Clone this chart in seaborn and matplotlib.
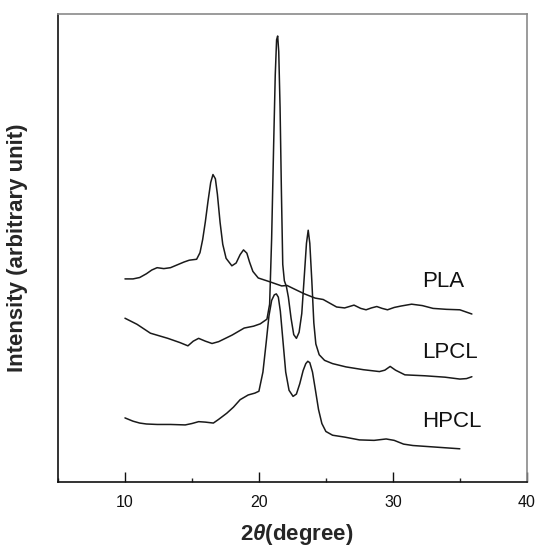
import matplotlib

matplotlib.use("Agg")
import matplotlib.pyplot as plt
import pandas as pd
import seaborn as sns
from matplotlib.ticker import MultipleLocator

# 2-theta (degree) and intensity (arbitrary unit, offset stacked)
pla_2theta = [10.0, 10.6, 11.1, 11.6, 12.0, 12.4, 12.9, 13.4, 13.9, 14.4, 14.8, 15.35,
              15.6, 15.8, 16.0, 16.2, 16.4, 16.57, 16.75, 16.9, 17.1, 17.3, 17.55,
              17.98, 18.3, 18.6, 18.85, 19.1, 19.3, 19.55, 19.95, 20.8, 21.7, 22.1,
              22.6, 23.4, 24.2, 24.8, 25.3, 25.8, 26.4, 27.1, 27.6, 28.0, 28.4,
              28.8, 29.2, 29.6, 30.1, 30.6, 31.4, 32.2, 33.0, 34.0, 35.0, 35.9]
pla_int = [43.4, 43.4, 43.7, 44.5, 45.3, 45.8, 45.6, 45.8, 46.4, 47.0, 47.4, 47.6,
           49.0, 51.8, 55.6, 60.0, 64.0, 65.7, 64.8, 61.5, 55.5, 50.8, 47.8,
           46.2, 46.8, 48.6, 49.6, 48.9, 47.0, 45.0, 43.6, 42.8, 41.9, 42.0,
           41.3, 40.2, 39.3, 39.0, 38.2, 37.4, 37.2, 37.8, 37.1, 36.8, 37.2,
           37.5, 37.1, 36.8, 37.3, 37.6, 38.0, 37.7, 37.1, 36.9, 36.8, 35.9]

lpcl_2theta = [10.0, 10.9, 11.9, 13.2, 14.1, 14.7, 15.1, 15.5, 16.0, 16.5, 17.0,
               18.0, 18.9, 19.6, 20.1, 20.6, 20.8, 20.95, 21.1, 21.22, 21.32,
               21.4, 21.48, 21.58, 21.68, 21.78, 21.9, 22.05, 22.2, 22.4, 22.6,
               22.8, 23.0, 23.2, 23.4, 23.55, 23.68, 23.8, 23.95, 24.1, 24.25,
               24.5, 24.9, 25.5, 26.5, 27.8, 29.0, 29.4, 29.8, 30.2, 30.9, 32.4,
               33.9, 35.0, 35.5, 35.9]
lpcl_int = [35.0, 33.7, 31.8, 30.7, 29.8, 29.1, 30.1, 30.7, 30.1, 29.6, 30.0,
            31.4, 32.9, 33.3, 33.8, 34.8, 38.0, 52.0, 72.0, 87.0, 94.5,
            95.3, 92.0, 80.0, 62.0, 46.5, 43.0, 41.8, 39.5, 35.0, 31.5,
            30.7, 32.0, 36.0, 44.5, 51.0, 53.8, 51.0, 43.0, 34.0, 29.5,
            27.2, 26.0, 25.3, 24.6, 24.0, 23.6, 23.9, 24.7, 23.9, 22.9, 22.7,
            22.4, 22.0, 22.1, 22.5]

hpcl_2theta = [10.0, 10.6, 11.1, 11.6, 12.4, 13.4, 14.5, 15.0, 15.5, 16.0, 16.6,
               17.0, 17.6, 18.1, 18.6, 19.2, 19.7, 20.0, 20.3, 20.55, 20.75,
               20.95, 21.15, 21.3, 21.45, 21.6, 21.8, 22.0, 22.25, 22.55, 22.8,
               23.05, 23.3, 23.5, 23.65, 23.8, 24.0, 24.2, 24.45, 24.7, 25.0,
               25.5, 26.4, 27.5, 28.6, 29.5, 30.1, 30.8, 31.5, 32.5, 33.5, 35.0]
hpcl_int = [13.7, 13.0, 12.6, 12.4, 12.3, 12.3, 12.2, 12.5, 12.9, 12.8, 12.6,
            13.4, 14.7, 16.0, 17.6, 18.6, 19.0, 19.4, 23.5, 30.0, 35.5,
            38.8, 40.0, 40.2, 39.5, 36.5, 30.0, 23.5, 19.6, 18.3, 18.8,
            21.0, 23.8, 25.3, 25.8, 25.5, 23.5, 20.0, 15.5, 12.5, 10.8,
            10.0, 9.6, 9.0, 8.9, 9.2, 8.9, 8.1, 7.8, 7.6, 7.4, 7.1]

sample_names = ["PLA", "LPCL", "HPCL"]
label_2theta = [32.2, 32.2, 32.2]
label_int = [42.8, 27.6, 12.9]

frames = []
for name, x, y in [("PLA", pla_2theta, pla_int),
                   ("LPCL", lpcl_2theta, lpcl_int),
                   ("HPCL", hpcl_2theta, hpcl_int)]:
    frames.append(pd.DataFrame({"two_theta": x, "intensity": y, "sample": name}))
df = pd.concat(frames, ignore_index=True)

sns.set_theme(style="ticks")
plt.rcParams["font.family"] = ["Liberation Sans", "DejaVu Sans"]
plt.rcParams["mathtext.fontset"] = "custom"
plt.rcParams["mathtext.it"] = "Liberation Sans:italic:bold"
plt.rcParams["mathtext.rm"] = "Liberation Sans:bold"

fig = plt.figure(figsize=(5.37, 5.48), dpi=100)
ax = fig.add_axes([0.108, 0.1204, 0.873, 0.854])

for name in sample_names:
    sns.lineplot(data=df[df["sample"] == name], x="two_theta", y="intensity",
                 sort=False, estimator=None, color="#1a1a1a", linewidth=1.1, ax=ax)

for name, tx, ty in zip(sample_names, label_2theta, label_int):
    ax.text(tx, ty, name, fontsize=16, va="center", ha="left", color="#111111")

ax.set_xlim(5, 40)
ax.set_ylim(0, 100)
ax.set_xticks([10, 20, 30, 40])
ax.xaxis.set_minor_locator(MultipleLocator(5))
ax.tick_params(axis="x", which="major", direction="in", length=7, width=1,
               labelsize=11.5, pad=9, colors="#111111")
ax.tick_params(axis="x", which="minor", direction="in", length=3, width=1)
ax.set_yticks([])

for side in ("left", "bottom"):
    ax.spines[side].set_color("#111111")
    ax.spines[side].set_linewidth(1.2)
for side in ("top", "right"):
    ax.spines[side].set_visible(True)
    ax.spines[side].set_color("#8a8a8a")
    ax.spines[side].set_linewidth(1.2)

ax.set_xlabel(r"2$\mathit{\theta}$(degree)", fontsize=16, fontweight="bold")
ax.set_ylabel("Intensity (arbitrary unit)", fontsize=16, fontweight="bold")
ax.xaxis.set_label_coords(0.51, -0.085)
ax.yaxis.set_label_coords(-0.064, 0.5)

fig.savefig("out.png", dpi=100)
plt.close(fig)
